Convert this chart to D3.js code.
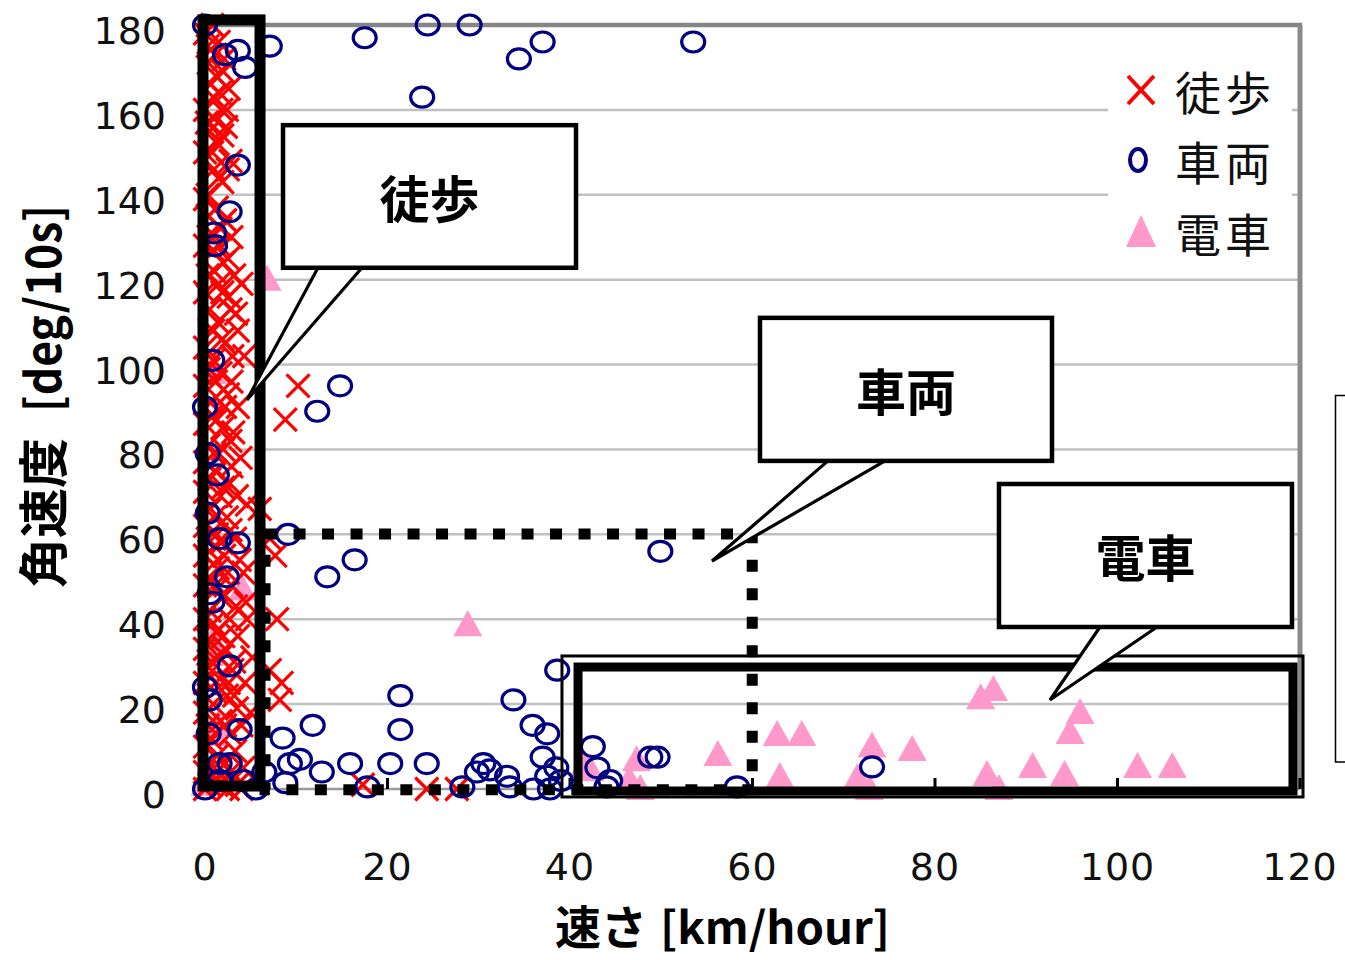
<!DOCTYPE html>
<html><head><meta charset="utf-8">
<script src="https://cdn.jsdelivr.net/npm/d3@7"></script>
<style>body{margin:0;background:#fff}svg{display:block}</style>
</head><body>
<svg id="c" width="1345" height="960"></svg>
<script>
// ---- data ----
const xTicks = [0,20,40,60,80,100,120];
const yTicks = [0,20,40,60,80,100,120,140,160,180];
const seriesNames = ["徒歩","車両","電車"];
// 徒歩 (walking) [speed km/h, angular velocity deg/10s]
const walkData = [
[0,178],[0.8,180],[1.5,176],[0.4,171],[1.2,168],[2.1,172],[0.9,163],[1.8,160],[0,160],[2.6,165],
[0.5,155],[1.4,152],[2.3,156],[0,150],[1.0,146],[1.9,143],[0.3,140],[2.8,148],[1.3,137],[0,139],
[2.2,134],[0.7,131],[1.6,128],[0,128],[2.5,125],[3.2,121],[1.0,122],[4.0,119],[1.9,117],[0,117],
[0.5,113],[2.8,113],[1.4,110],[3.6,108],[2.2,105],[0,104],[4.3,102],[0.9,101],[1.7,98],[2.9,96],
[0,95],[0.6,91],[2.2,90],[1.3,87],[0,86],[3.1,84],[0.4,81],[2.0,80],[3.9,78],[0,77],
[1.1,75],[2.7,72],[0,70],[1.7,69],[4.6,67],[0.6,66],[2.4,64],[6.0,66],[0,62],[1.3,60],
[3.3,59],[7.1,59],[0.5,56],[2.1,55],[7.7,55],[0,55],[1.4,52],[4.2,51],[0.8,49],[2.9,48],
[0,48],[1.9,45],[4.5,44],[0.5,42],[7.9,40],[4.6,40],[2.7,40],[0,40],[1.2,37],[3.6,36],
[2.2,33],[0,33],[5.2,31],[0.7,30],[7.1,28],[3.0,28],[1.6,26],[4.4,25],[8.4,25],[0,25],
[2.4,22],[0.9,20],[8.2,21],[3.5,19],[5.0,18],[0,18],[1.7,16],[4.0,15],[2.8,13],[0.6,12],
[0,10],[3.3,9],[1.4,8],[2.2,6],[4.2,5],[0,4],[0.8,3],[3.0,2],[1.8,1],[0,0],[2.5,0],[4.0,0],
[0.3,175],[1.1,173],[2.0,169],[0.6,166],[1.6,164],[2.4,160],[1.0,158],[0.2,157],[1.9,154],[0.8,150],
[2.5,146],[1.5,144],[0.4,135],[1.7,132],[2.9,130],[0.9,127],[2.0,124],[0.3,121],[1.5,119],[2.6,116],
[3.4,112],[0.9,108],[1.9,106],[3.0,102],[0.4,99],[1.2,96],[2.5,93],[3.6,90],[0.8,88],[1.9,85],
[2.8,82],[1.0,79],[2.9,76],[0.5,73],[2.0,71],[3.5,69],[1.0,64],[2.8,61],[0.3,59],[1.8,58],
[3.8,54],[0.9,53],[2.5,51],[1.2,47],[3.4,43],[0.9,39],[2.0,36],[0.4,35],[1.6,31],[3.2,30],
[0.4,27],[2.6,25],[1.1,23],[3.2,22],[0.3,15],[2.2,15],[1.0,5],[2.8,4],[0.5,1],[1.3,2],[3.5,1],
[10.2,95],[8.8,87],[17.3,1],[24.3,0],[27.6,0]
];
// 車両 (vehicle)
const carData = [
[0,180],[2.2,173],[3.6,174],[4.4,170],[7.1,175],[17.5,177],[24.4,180],[29,180],[34.4,172],[37,176],
[53.5,176],[23.8,163],[3.6,147],[2.7,136],[1.1,128],[1.0,131],[0.8,101],[0,90],[14.8,95],[12.3,89],
[9.1,60],[16.4,54],[13.4,50],[49.9,56],[0.3,79],[1.3,74],[0.3,65],[1.6,59],[3.6,58],[2.4,50],
[0.5,46],[0.8,44],[2.7,29],[0,24],[0.5,21],[3.8,14],[8.5,12],[11.8,15],[9.3,6],[10.4,7],
[2.7,6],[1.6,2],[0,0],[0.4,13],[12.8,4],[15.9,6],[17.8,0.5],[21.4,22],[21.4,14],[20.3,6],
[24.3,6],[28.2,0.5],[30.5,6],[31.2,4.5],[29.8,4],[33.8,21],[35.9,15],[37.5,13],[38.6,28],[37,7.5],
[33.1,3],[33.4,0.5],[37.5,3],[37.8,0],[42.5,10],[43,5],[44.4,2],[48.8,7.5],[49.6,7.5],[44,0.5],
[58.3,0.5],[73.1,5.2],[38.5,5],[39,2],[36,0],[6.5,4],[4.2,2],[5.6,0],[8.8,1.5],[1.6,6]
];
// 電車 (train)
const trainData = [
[6.8,120],[4.1,47],[28.8,38.6],[0.8,98],[0.5,31.6],[1.1,12.7],[1.4,15],[0,1],[0.8,35],
[41.6,5.6],[47.3,6.8],[47.7,0],[46.5,2],[56.2,8],[62.7,12.7],[65.4,12.7],[63,2.8],[73.1,10],
[77.5,9.2],[71.5,2.6],[72.8,0],[85,21.4],[86.4,23.3],[95.9,17.9],[94.8,13.2],[85.7,3.3],[87,0],
[90.7,5.2],[94.2,3.3],[102.2,5.2],[106,5.2],[42.2,4.5]
];
// annotations (in data units)
const walkBox = {x0:-0.22, x1:6.03, y0:181.2, y1:0.7};
const carDotted = {x0:6.58, x1:59.97, y0:60.1, y1:-0.2};
const trainInner = {x0:40.88, x1:119.23, y0:28.74, y1:-0.47};
const trainOuter = {x0:39.12, x1:120.33, y0:31.34, y1:-1.88};
const callouts = [
  {label:"徒歩", x0:8.55, x1:40.66, y0:156.4, y1:122.8, b0:12.38, b1:17.2, ax:4.6, ay:91.65},
  {label:"車両", x0:60.82, x1:92.82, y0:111.0, y1:77.3, b0:68.27, b1:74.52, ax:55.56, ay:53.7},
  {label:"電車", x0:87.01, x1:119.12, y0:71.86, y1:38.17, b0:98.08, b1:104.33, ax:92.6, ay:20.97}
];

// ---- drawing ----
const svg = d3.select("#c");
const x = d3.scaleLinear().domain([0,120]).range([205,1300]);
const y = d3.scaleLinear().domain([0,180]).range([789,25]);
const numFont = "'DejaVu Sans', sans-serif";
const cjk = "'Noto Sans CJK JP', sans-serif";

// gridlines
svg.append("g").selectAll("line").data(yTicks.filter(v=>v>0 && v<180)).join("line")
  .attr("x1",x(0)).attr("x2",x(120)).attr("y1",d=>y(d)).attr("y2",d=>y(d))
  .attr("stroke","#c0c0c0").attr("stroke-width",2.5);
// plot border (top & right) and x axis line
svg.append("line").attr("x1",x(0)).attr("x2",x(120)+2).attr("y1",y(180)).attr("y2",y(180))
  .attr("stroke","#858585").attr("stroke-width",4.5);
svg.append("line").attr("x1",x(120)).attr("x2",x(120)).attr("y1",y(180)).attr("y2",y(0))
  .attr("stroke","#8a8a8a").attr("stroke-width",5);
svg.append("line").attr("x1",x(0)).attr("x2",x(120)).attr("y1",y(0)).attr("y2",y(0))
  .attr("stroke","#9a9a9a").attr("stroke-width",2.5);
svg.append("g").selectAll("line").data(xTicks).join("line")
  .attr("x1",d=>x(d)).attr("x2",d=>x(d)).attr("y1",y(0)).attr("y2",y(0)-11)
  .attr("stroke","#000").attr("stroke-width",3);

// tick labels
svg.append("g").selectAll("text").data(yTicks).join("text")
  .attr("x",166).attr("y",d=>y(d)+19).attr("text-anchor","end")
  .attr("font-family",numFont).attr("font-size",38).attr("fill","#111")
  .text(d=>d);
svg.append("g").selectAll("text").data(xTicks).join("text")
  .attr("x",d=>x(d)).attr("y",880).attr("text-anchor","middle")
  .attr("font-family",numFont).attr("font-size",38).attr("fill","#111")
  .attr("letter-spacing",1)
  .text(d=>d);

// axis titles
svg.append("text").attr("transform","translate(40,588) rotate(-90)")
  .attr("dominant-baseline","central").attr("font-family",cjk).attr("font-weight",700)
  .attr("font-size",50).text("角速度");
svg.append("text").attr("transform","translate(40,412) rotate(-90)")
  .attr("dominant-baseline","central").attr("font-family",cjk).attr("font-weight",700)
  .attr("font-size",48).attr("textLength",207).attr("lengthAdjust","spacingAndGlyphs").text("[deg/10s]");
svg.append("text").attr("x",555).attr("y",944)
  .attr("font-family",cjk).attr("font-weight",700).attr("font-size",46).text("速さ");
svg.append("text").attr("x",660).attr("y",944)
  .attr("font-family",cjk).attr("font-weight",700).attr("font-size",44)
  .attr("textLength",230).attr("lengthAdjust","spacingAndGlyphs").text("[km/hour]");

// markers
const triPath = "M0,-15L14.5,11L-14.5,11Z";
svg.append("g").selectAll("path").data(trainData).join("path")
  .attr("transform",d=>`translate(${x(d[0])},${y(d[1])})`).attr("d",triPath)
  .attr("fill","#ff99cc");
const xPath = "M-11.5,-11.5L11.5,11.5M-11.5,11.5L11.5,-11.5";
svg.append("g").selectAll("path").data(walkData).join("path")
  .attr("transform",d=>`translate(${x(d[0])},${y(d[1])})`).attr("d",xPath)
  .attr("fill","none").attr("stroke","#ff0000").attr("stroke-width",3.2);
svg.append("g").selectAll("ellipse").data(carData).join("ellipse")
  .attr("cx",d=>x(d[0])).attr("cy",d=>y(d[1])).attr("rx",11.5).attr("ry",10)
  .attr("fill","none").attr("stroke","#000080").attr("stroke-width",3.2);

// legend
const lg = svg.append("g");
lg.append("rect").attr("x",1108).attr("y",52).attr("width",184).attr("height",214).attr("fill","#fff");
const legY = [90,160,232];
lg.append("path").attr("transform",`translate(1141,${legY[0]})`).attr("d","M-13,-14L13,14M-13,14L13,-14")
  .attr("stroke","#ff0000").attr("stroke-width",4).attr("fill","none");
lg.append("ellipse").attr("cx",1138).attr("cy",legY[1]).attr("rx",8).attr("ry",11)
  .attr("fill","none").attr("stroke","#000080").attr("stroke-width",4);
lg.append("path").attr("transform",`translate(1141,${legY[2]})`).attr("d","M0,-17L15,15L-15,15Z").attr("fill","#ff99cc");
lg.selectAll("text").data(seriesNames).join("text")
  .attr("x",1175).attr("y",(d,i)=>legY[i]).attr("dominant-baseline","central")
  .attr("font-family",cjk).attr("font-size",46).attr("letter-spacing",4).attr("fill","#111").text(d=>d);

// annotations
const ann = svg.append("g");
const rectOf = (r)=>({x:x(r.x0), y:y(r.y0), w:x(r.x1)-x(r.x0), h:y(r.y1)-y(r.y0)});
function drawRect(r, sw, dash){
  const o = rectOf(r);
  const el = ann.append("rect").attr("x",o.x).attr("y",o.y).attr("width",o.w).attr("height",o.h)
    .attr("fill","none").attr("stroke","#000").attr("stroke-width",sw);
  if(dash) el.attr("stroke-dasharray",dash);
  return el;
}
drawRect(carDotted, 11, "12 16.5");
drawRect(walkBox, 11);
drawRect(trainOuter, 3);
drawRect(trainInner, 9);
callouts.forEach(c=>{
  ann.append("path")
    .attr("d",`M${x(c.b0)},${y(c.y1)}L${x(c.ax)},${y(c.ay)}L${x(c.b1)},${y(c.y1)}`)
    .attr("fill","#fff").attr("stroke","#000").attr("stroke-width",3.2).attr("stroke-linejoin","miter");
  const o = rectOf(c);
  ann.append("rect").attr("x",o.x).attr("y",o.y).attr("width",o.w).attr("height",o.h)
    .attr("fill","#fff").attr("stroke","#000").attr("stroke-width",4.5);
  ann.append("text").attr("x",o.x+o.w/2).attr("y",o.y+o.h/2)
    .attr("text-anchor","middle").attr("dominant-baseline","central")
    .attr("font-family",cjk).attr("font-weight",700).attr("font-size",50).attr("fill","#000").text(c.label);
});
// partial frame at right edge
ann.append("path").attr("d","M1346,395.5H1335.5V762H1346").attr("fill","none").attr("stroke","#000").attr("stroke-width",1.5);
</script>
</body></html>
